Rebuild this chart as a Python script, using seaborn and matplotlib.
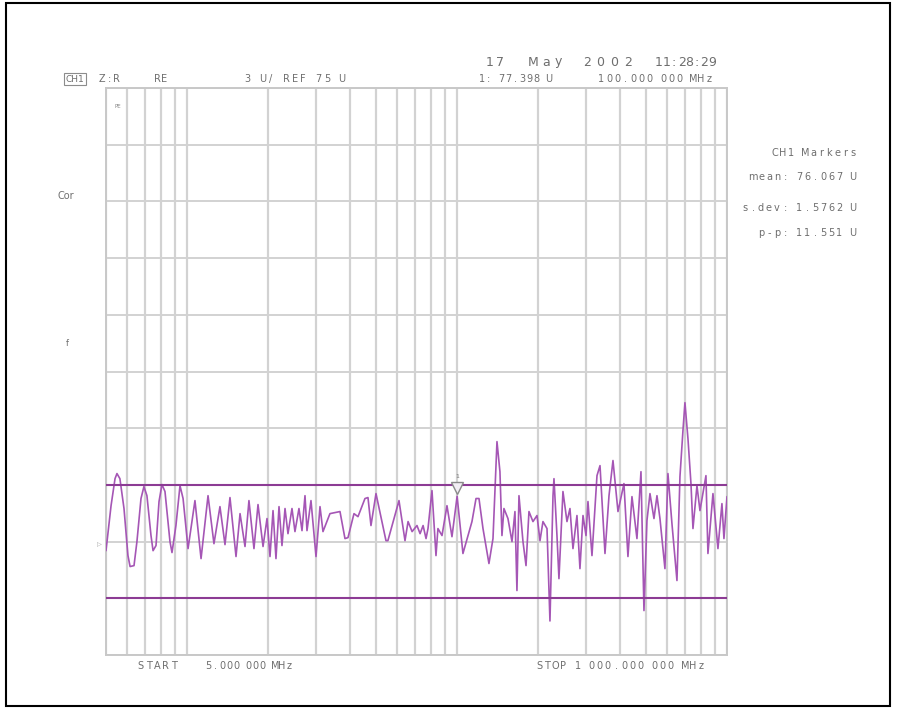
import matplotlib
matplotlib.use("Agg")
import matplotlib.pyplot as plt
import matplotlib.ticker as mticker
import matplotlib.transforms as mtransforms
from matplotlib.patches import Rectangle
import pandas as pd
import seaborn as sns

# trace (frequency in MHz, value in U)
freq_mhz = [
    5.00, 5.22, 5.40, 5.49, 5.63, 5.83, 6.03, 6.14, 6.35, 6.51,
    6.74, 6.91, 7.09, 7.34, 7.47, 7.66, 7.86, 8.06, 8.27, 8.63,
    8.78, 9.08, 9.40, 9.65, 10.07, 10.68,
    11.25, 11.94, 12.56, 13.22, 13.80, 14.40, 15.16, 15.69, 16.37, 16.93,
    17.67, 18.29, 19.09, 19.75, 20.26, 20.79, 21.32, 21.88, 22.44, 23.03,
    23.62, 24.44, 25.07, 25.94, 26.62, 27.31, 27.78, 28.74, 30.00, 31.04,
    31.84, 33.79, 36.81, 38.41, 39.41, 41.48, 42.92, 45.56, 46.74, 47.95,
    50.05, 54.5, 55.4, 60.9, 64.1, 65.8, 68.1, 71.0, 72.9, 74.8,
    76.7, 78.0, 80.7, 83.5, 84.9, 87.9, 91.7, 95.7, 100.0, 105.1,
    113.5, 117.5, 120.5, 124.7, 131.2, 135.8, 140.5, 144.1, 146.6, 149.1,
    154.3, 159.7, 163.8, 166.6, 169.5, 175.4, 180.0, 184.6, 191.0, 197.7,
    202.8, 208.0, 215.3, 220.8, 226.6, 228.5, 234.4, 238.4, 246.7, 255.3,
    261.9, 268.7, 278.0, 285.2, 292.7, 300.3, 305.4, 316.0, 329.8, 338.4,
    353.1, 365.4, 378.0, 394.5, 415.1, 429.5, 444.5, 463.8, 480.0, 492.4,
    505.1, 518.3, 536.3, 550.2, 564.4, 588.9, 604.2, 625.2, 652.5, 669.4,
    686.7, 698.5, 716.7, 735.3, 748.0, 773.9, 794.0, 835.6, 849.9, 887.1,
    925.7, 957.8, 974.3, 1000.0,
]
value_u = [
    74.52, 76.90, 78.33, 78.60, 78.33, 76.75, 74.26, 73.68, 73.73, 75.00,
    77.28, 77.91, 77.43, 75.32, 74.52, 74.79, 77.12, 78.02, 77.65, 75.00,
    74.42, 75.85, 77.96, 77.28, 74.63, 77.17,
    74.10, 77.43, 74.89, 76.85, 74.84, 77.33, 74.21, 76.48, 74.74, 77.17,
    74.63, 76.96, 74.74, 76.22, 74.21, 76.64, 74.10, 76.85, 74.79, 76.75,
    75.42, 76.75, 75.53, 76.75, 75.58, 77.43, 75.58, 77.17, 74.21, 76.85,
    75.53, 76.48, 76.59, 75.16, 75.21, 76.48, 76.32, 77.28, 77.33, 75.85,
    77.54, 75.05, 75.05, 77.17, 75.05, 76.06, 75.53, 75.85, 75.42, 75.85,
    75.16, 75.69, 77.70, 74.26, 75.69, 75.32, 76.90, 75.26, 77.398, 74.37,
    76.06, 77.28, 77.28, 75.69, 73.84, 75.16, 80.29, 78.70, 75.32, 76.75,
    76.22, 75.00, 76.59, 72.41, 77.43, 75.00, 73.73, 76.59, 76.06, 76.38,
    75.05, 76.06, 75.69, 70.80, 77.43, 78.33, 75.32, 73.04, 77.65, 76.06,
    76.75, 74.63, 76.38, 73.57, 76.38, 75.32, 77.12, 74.26, 78.49, 79.02,
    74.37, 77.43, 79.29, 76.59, 78.07, 74.21, 77.38, 75.16, 78.70, 71.35,
    76.11, 77.54, 76.22, 77.43, 76.22, 73.57, 78.60, 75.95, 72.94, 78.44,
    80.87, 82.35, 80.45, 78.07, 75.69, 77.96, 76.64, 78.49, 74.37, 77.54,
    74.63, 77.01, 75.16, 77.38,
]
limit_lines = [78, 72]
marker_freq = 100.0
marker_value = 77.398

date_words = ["17", "May", "2002", "11:28:29"]
header_labels = ["Z:R", "RE", "3 U/ REF 75 U", "1: 77.398 U", "100.000 000 MHz"]
marker_stats = ["CH1 Markers", "mean: 76.067 U", "s.dev: 1.5762 U", "p-p: 11.551 U"]

df = pd.DataFrame({"freq": freq_mhz, "value": value_u})

sns.set_theme(style="whitegrid")
plt.rcParams["font.family"] = ["DejaVu Sans"]

W, H = 897, 709
fig = plt.figure(figsize=(W / 100, H / 100), dpi=100)
fig.patch.set_facecolor("white")


def fx(px):
    return px / W


def fy(py):
    return 1 - py / H


def screen_text(x0, y, s, pitch, size=7, color="#6e6e6e", right=False):
    # instrument font: characters on a fixed pitch, spaces a bit narrower
    steps = [pitch * (0.75 if ch == " " else 1.0) for ch in s]
    if right:
        x0 = x0 - sum(steps)
    x = x0
    for ch, st in zip(s, steps):
        if ch != " ":
            fig.text(fx(x + st / 2), fy(y), ch, fontsize=size,
                     color=color, ha="center", va="center")
        x += st


ax = fig.add_axes([fx(106), fy(655), fx(727) - fx(106), fy(88) - fy(655)])
ax.set_facecolor("white")

sns.lineplot(data=df, x="freq", y="value", ax=ax, color="#a556b5",
             linewidth=1.2, estimator=None, sort=False, zorder=3,
             solid_joinstyle="round")
for lv in limit_lines:
    ax.axhline(lv, color="#8c3b94", linewidth=1.5, zorder=4)

ax.set_xscale("log")
ax.set_xlim(5, 1000)
ax.set_ylim(69, 99)
ax.xaxis.set_major_locator(mticker.LogLocator(base=10))
ax.xaxis.set_minor_locator(mticker.LogLocator(base=10, subs=range(2, 10)))
ax.yaxis.set_major_locator(mticker.MultipleLocator(3))
ax.grid(which="both", axis="x", color="#d2d2d2", linewidth=1.6)
ax.grid(which="major", axis="y", color="#d2d2d2", linewidth=1.4)
ax.tick_params(which="both", length=0, labelbottom=False, labelleft=False)
ax.set_xlabel("")
ax.set_ylabel("")
for s in ax.spines.values():
    s.set_color("#c8c8c8")
    s.set_linewidth(1.4)

# marker 1
off = mtransforms.offset_copy(ax.transData, fig=fig, x=0, y=6, units="points")
ax.plot([marker_freq], [marker_value], marker="v", markersize=9,
        markerfacecolor="#f2eef4", markeredgecolor="#8a8a8a",
        markeredgewidth=1.0, transform=off, zorder=5)
off2 = mtransforms.offset_copy(ax.transData, fig=fig, x=0, y=14, units="points")
ax.text(marker_freq, marker_value, "1", transform=off2, ha="center",
        va="center", fontsize=4.5, color="#777777")

# header
for (px, pitch), word in zip([(485, 10.0), (527, 12.7), (580, 13.7), (655, 7.6)],
                             date_words):
    screen_text(px, 62, word, pitch, size=9)
fig.text(fx(75), fy(79), "CH1", fontsize=6.5, color="#6e6e6e", va="center",
         ha="center", bbox=dict(boxstyle="square,pad=0.15", facecolor="white",
                                edgecolor="#8c8c8c", linewidth=0.8))
for (px, pitch), lab in zip([(98, 7.5), (154, 7.0), (243, 8.6), (478, 7.1), (597, 8.0)],
                            header_labels):
    screen_text(px, 79, lab, pitch)

for py, lab in zip([153, 177, 208, 233], marker_stats):
    screen_text(857, py, lab, 8.0, right=True)

fig.text(fx(57), fy(196), "Cor", fontsize=7, color="#6e6e6e", va="center", ha="left")
fig.text(fx(66), fy(344), "f", fontsize=6, color="#6e6e6e", va="center", ha="left")
fig.text(fx(99), fy(545), "▷", fontsize=4.5, color="#9a9a9a", va="center", ha="center")
fig.text(fx(118), fy(107), "PE", fontsize=4, color="#888888", va="center", ha="center")

screen_text(136, 666, "START", 8.4)
screen_text(205, 666, "5.000 000 MHz", 7.0)
screen_text(535, 666, "STOP 1 000.000 000 MHz", 8.1)

# outer frame of the screenshot
fig.add_artist(Rectangle((fx(6), fy(706)), fx(890) - fx(6), fy(3) - fy(706),
                         transform=fig.transFigure, fill=False,
                         edgecolor="black", linewidth=1.5))

fig.savefig("out.png", dpi=100)
plt.close(fig)
